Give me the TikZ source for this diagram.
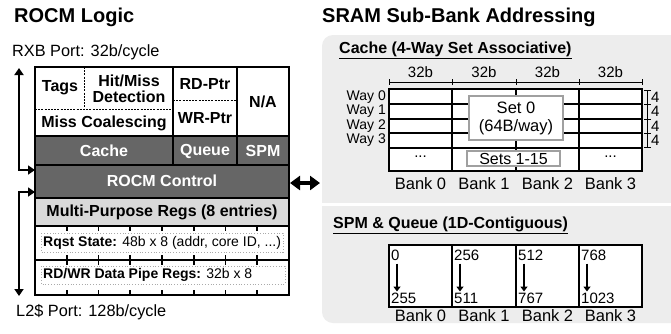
\documentclass[tikz,border=0pt]{standalone}
\usepackage{fontspec}
\setmainfont{Liberation Sans}
\usetikzlibrary{arrows.meta}
\definecolor{dkgray}{RGB}{102,102,102}
\definecolor{ltgray}{RGB}{217,217,217}
\definecolor{panelgray}{RGB}{237,237,237}
\definecolor{boxgray}{RGB}{160,160,160}
\definecolor{dotgray}{RGB}{170,170,170}
\tikzset{
  blk/.style={draw=black, line width=1.8pt},
  dsh/.style={draw=black, line width=1pt, dash pattern=on 2pt off 1.2pt},
  cellbold/.style={font=\fontsize{16}{17}\selectfont\bfseries, inner sep=0pt, align=center},
  whitebold/.style={cellbold, text=white},
  title/.style={font=\fontsize{20}{22}\selectfont\bfseries, inner sep=0pt, anchor=west},
  port/.style={font=\fontsize{16.3}{17}\selectfont, inner sep=0pt, anchor=west},
  regtxt/.style={font=\fontsize{14}{16}\selectfont, inner sep=0pt, anchor=west},
  small/.style={font=\fontsize{15}{16}\selectfont, inner sep=0pt},
  banklbl/.style={font=\fontsize{16.5}{17}\selectfont, inner sep=0pt},
  wayl/.style={font=\fontsize{14}{14}\selectfont, inner sep=0pt, anchor=east},
  numl/.style={font=\fontsize{15}{15}\selectfont, inner sep=0pt, anchor=west},
  porttip/.style={line width=2.8pt, {Triangle[length=7pt,width=9pt]}-{Triangle[length=7pt,width=9pt]}},
  dotbox/.style={draw=dotgray, line width=0.8pt, dotted},
}
\begin{document}
\begin{tikzpicture}[x=1pt,y=-1pt]
\useasboundingbox (0,0) rectangle (671,333);
\fill[white] (0,0) rectangle (671,333);

% ================= LEFT: ROCM Logic =================
\node[title] (t1) at (14,17) {ROCM Logic};
\node[port] (rxb) at (12,52) {RXB Port: 32b/cycle};
\node[port] (l2p) at (16,312) {L2\$ Port: 128b/cycle};

% fills
\fill[dkgray] (35,136) rectangle (289,198);
\fill[ltgray] (35,198) rectangle (289,226);

% dashed internal lines
\draw[dsh] (35,109) -- (173,109);
\draw[dsh] (84,67) -- (84,109);
\draw[dsh] (173,100) -- (237,100);

% dotted inner boxes
\draw[dotbox] (41,233) rectangle (283,252);
\draw[dotbox] (41,266) rectangle (285,284);

% ticks
\foreach \k in {1,...,7}{
  \draw[line width=1.8pt] ({35+31.75*\k},226) -- ++(0,5);
  \draw[line width=1.8pt] ({35+31.75*\k},255) -- ++(0,10);
  \draw[line width=1.8pt] ({35+31.75*\k},290) -- ++(0,5);
}

% grid lines
\draw[blk] (35,67) rectangle (289,295);
\draw[blk] (173,67) -- (173,165);
\draw[blk] (237,67) -- (237,165);
\draw[blk] (35,136) -- (289,136);
\draw[blk] (35,165) -- (289,165);
\draw[blk] (35,198) -- (289,198);
\draw[blk] (35,226) -- (289,226);
\draw[blk] (35,260) -- (289,260);

% texts
\node[cellbold] (tags) at (60,88) {Tags};
\node[cellbold] (hit) at (129,89) {Hit/Miss\\[-1pt]Detection};
\node[cellbold] (miss) at (104,123) {Miss Coalescing};
\node[cellbold] (rd) at (205,84) {RD-Ptr};
\node[cellbold] (wr) at (205,118) {WR-Ptr};
\node[cellbold] (na) at (263,102) {N/A};
\node[whitebold] (cache) at (104,151) {Cache};
\node[whitebold] (queue) at (205,151) {Queue};
\node[whitebold] (spm) at (263,151) {SPM};
\node[whitebold] (ctrl) at (162,181) {ROCM Control};
\node[cellbold] (mpr) at (162,212) {Multi-Purpose Regs (8 entries)};
\node[regtxt] (rqst) at (43,243) {\textbf{Rqst State:} 48b x 8 (addr, core ID, ...)};
\node[regtxt] (rdwr) at (43,275) {\textbf{RD/WR Data Pipe Regs:} 32b x 8};

% ports arrows
\coordinate (rxbtop) at (19,68);
\coordinate (rxbin) at (35,170);
\coordinate (l2bot) at (19,296);
\coordinate (l2in) at (35,192);
\draw[porttip] (rxbtop) |- (rxbin);
\draw[porttip] (l2in) -| (l2bot);

% double arrow to right
\coordinate (da1) at (290,183);
\coordinate (da2) at (320,183);
\draw[line width=4pt, {Triangle[length=10pt,width=14pt]}-{Triangle[length=10pt,width=14pt]}] (da1) -- (da2);

% ================= RIGHT: SRAM =================
\node[title] (t2) at (322,17) {SRAM Sub-Bank Addressing};
\fill[panelgray, rounded corners=11pt] (322,35) rectangle (690,323);
\draw[white, line width=3pt] (322,204) -- (671,204);

\node[cellbold, anchor=west] (ch) at (339,50) {\underline{Cache (4-Way Set Associative)}};
\node[cellbold, anchor=west] (sh) at (333,225) {\underline{SPM \& Queue (1D-Contiguous)}};

% dimension line
\draw[line width=0.8pt] (389,82) -- (642,82);
\foreach \x in {389,452,516,579,642}{
  \draw[line width=0.8pt] (\x,79) -- (\x,85);
}
\foreach \x/\n in {420.5/a,484/b,547.5/c,610.5/d}{
  \node[small] (w\n) at (\x,72) {32b};
}

% cache grid
\fill[white] (389,89) rectangle (642,171);
\foreach \y in {104,119,133,148}{
  \draw[blk] (389,\y) -- (642,\y);
}
\foreach \x in {452,516,579}{
  \draw[blk] (\x,89) -- (\x,171);
}
\draw[blk] (389,89) rectangle (642,171);

\node[wayl] (way0) at (386,97) {Way 0};
\node[wayl] (way1) at (386,111.5) {Way 1};
\node[wayl] (way2) at (386,126) {Way 2};
\node[wayl] (way3) at (386,140.5) {Way 3};

% bracket of 4
\draw[line width=0.8pt] (647,90) -- (647,147);
\foreach \y in {90,104,119,133,147}{
  \draw[line width=0.8pt] (644,\y) -- (651,\y);
}
\foreach \y/\n in {97/a,111.5/b,126/c,140.5/d}{
  \node[numl] (f\n) at (651,\y) {4};
}

% set boxes
\node[draw=boxgray, line width=2pt, fill=white, minimum width=94pt, minimum height=44pt, inner sep=0pt,
      font=\fontsize{16.5}{18}\selectfont, align=center] (set0) at (516,118) {Set 0\\(64B/way)};
\node[draw=boxgray, line width=2pt, fill=white, minimum width=93pt, minimum height=15pt, inner sep=0pt,
      font=\fontsize{16}{16}\selectfont] (sets) at (513.5,158.5) {Sets 1-15};
\node[small] (dots0) at (420.5,157) {...};
\node[small] (dots3) at (610.5,157) {...};

\foreach \x/\n in {420.5/0,484/1,547.5/2,610.5/3}{
  \node[banklbl] (bk\n) at (\x,184) {Bank \n};
}

% SPM grid
\fill[white] (389,245) rectangle (642,307);
\foreach \x in {452,516,579}{
  \draw[blk] (\x,245) -- (\x,307);
}
\draw[blk] (389,245) rectangle (642,307);
\foreach \x/\a/\b/\n in {389/0/255/p,452/256/511/q,516/512/767/r,579/768/1023/s}{
  \node[numl] (top\n) at (\x+2,255) {\a};
  \node[numl] (bot\n) at (\x+2,298) {\b};
  \draw[line width=2.5pt, -{Triangle[length=5pt,width=7pt]}] (top\n.south west) ++(6,3) -- ++(0,28);
}
\foreach \x/\n in {420.5/0,484/1,547.5/2,610.5/3}{
  \node[banklbl] (sbk\n) at (\x,316) {Bank \n};
}
\end{tikzpicture}
\end{document}
